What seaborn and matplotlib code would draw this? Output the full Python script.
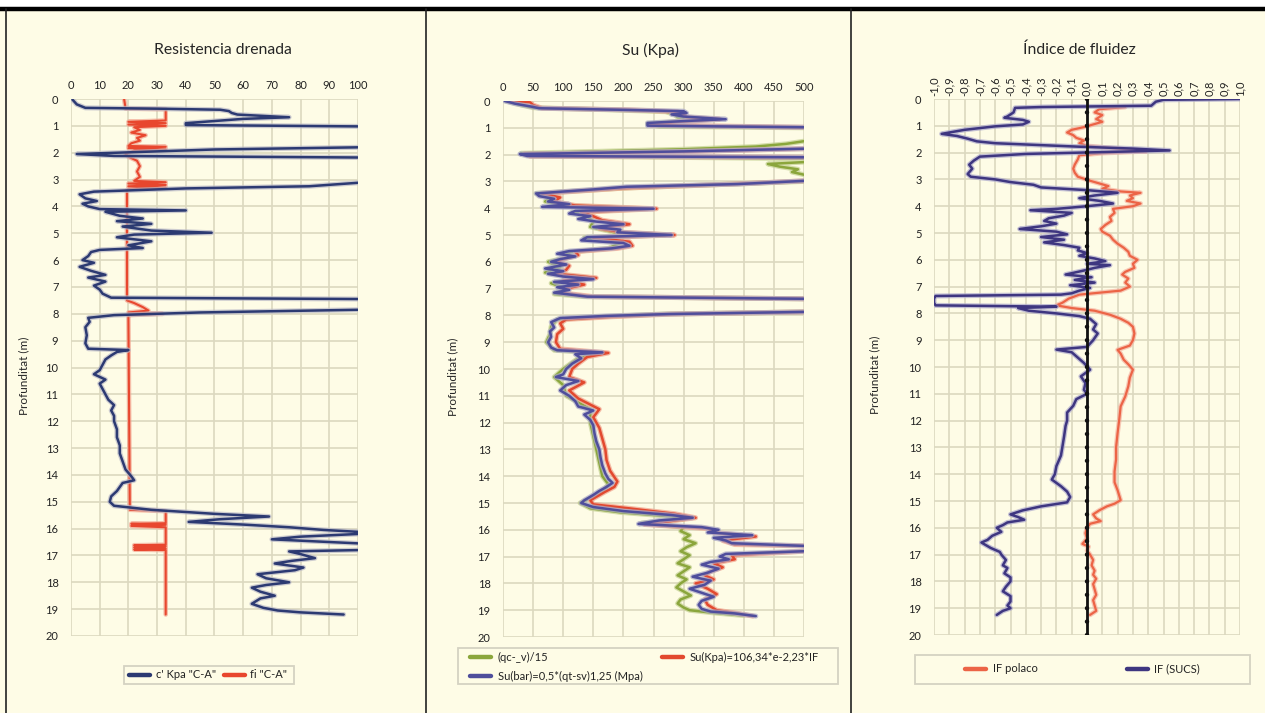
import numpy as np
import pandas as pd
import matplotlib
matplotlib.use("Agg")
import matplotlib.pyplot as plt
import matplotlib.patheffects as pe
from matplotlib.lines import Line2D
from matplotlib.patches import Rectangle
from matplotlib.ticker import MultipleLocator, FuncFormatter
import seaborn as sns

sns.set_style("white")
plt.rcParams['font.family'] = ['Lato', 'DejaVu Sans']

CREAM = "#FEFCE6"
GRID = "#DCD8BF"

# ---------------- Resistencia drenada ----------------
c_depth = [0.02, 0.2, 0.33, 0.36, 0.40, 0.45, 0.52, 0.58, 0.68, 0.74, 0.90, 0.97, 1.02, 1.05,
           1.75, 1.80, 1.88, 2.05, 2.12, 2.18, 2.22, 3.05, 3.12, 3.25, 3.33, 3.45, 3.55, 3.70,
           3.80, 3.90, 4.00, 4.10, 4.15, 4.20, 4.35, 4.45, 4.55, 4.65, 4.75, 4.90, 4.98, 5.05,
           5.15, 5.30, 5.45, 5.55, 5.62, 5.70, 5.85, 6.00, 6.10, 6.25, 6.40, 6.55, 6.65, 6.80,
           6.95, 7.10, 7.25, 7.40, 7.45, 7.48, 7.78, 7.85, 7.95, 8.05, 8.15, 8.3, 8.5, 8.8,
           9.1, 9.3, 9.35, 9.42, 9.55, 9.7, 9.9, 10.1, 10.25, 10.45, 10.6, 10.8, 11.0, 11.2,
           11.4, 11.6, 11.8, 12.0, 12.3, 12.6, 12.9, 13.2, 13.5, 13.8, 14.05, 14.2, 14.3, 14.45,
           14.6, 14.8, 15.0, 15.15, 15.3, 15.45, 15.55, 15.65, 15.75, 15.85, 15.95, 16.05, 16.12,
           16.15, 16.20, 16.30, 16.40, 16.50, 16.55, 16.6, 16.75, 16.80, 16.85, 16.95, 17.1,
           17.2, 17.3, 17.45, 17.55, 17.7, 17.85, 18.0, 18.1, 18.2, 18.35, 18.5, 18.6, 18.8,
           18.95, 19.05, 19.12, 19.2]
c_kpa = [0.5, 2, 5, 30, 52, 55, 56, 58, 76, 60, 40, 40, 100, 160,
         160, 100, 50, 2, 15, 100, 160, 160, 100, 83, 40, 8, 3, 5,
         9, 4, 6, 10, 40, 12, 17, 25, 16, 28, 18, 28, 49, 22,
         16, 28, 20, 25, 10, 7, 6, 4, 8, 3, 7, 12, 6, 12,
         8, 10, 11, 14, 100, 160, 160, 100, 45, 15, 6, 6.5, 5, 5.5,
         5, 6, 20, 16, 14, 12, 11, 10, 8, 12, 10, 11, 12, 13,
         15, 14, 15, 15, 16, 16, 17, 17, 18, 19, 21, 22, 18, 17,
         16, 14, 13.5, 15, 28, 50, 69, 52, 41, 60, 76, 88, 100,
         130, 100, 80, 70, 90, 100, 140, 140, 100, 76, 80, 85,
         77, 71, 81, 78, 65, 68, 76, 68, 63, 66, 71, 66, 63,
         67, 72, 80, 95]

fi_depth = [0.0, 0.2, 0.36, 0.38, 0.80, 0.85, 0.90, 0.95, 1.00, 1.05, 1.15, 1.25, 1.35, 1.45,
            1.55, 1.65, 1.75, 1.78, 1.83, 1.88, 1.92, 2.05, 2.15, 2.3, 2.5, 2.7, 2.9, 3.05,
            3.1, 3.15, 3.2, 3.25, 3.3, 3.35, 3.4, 7.50, 7.60, 7.75, 7.88, 7.95, 8.00, 8.05,
            8.10, 15.30, 15.35, 15.8, 15.82, 15.86, 15.9, 15.95, 16.6, 16.62, 16.66, 16.7,
            16.74, 16.78, 16.8, 19.2]
fi_val = [18.5, 18.8, 19, 33, 33, 20, 33, 20, 33, 22, 24, 21, 26, 23,
          24, 21, 20, 33, 20, 33, 22, 19, 20, 23, 24, 23, 24, 22,
          33, 20, 33, 20, 33, 20, 19.5, 19.5, 22, 25, 27, 20, 32, 20,
          20, 20.5, 33, 33, 21, 33, 21, 33, 33, 22, 33, 22,
          33, 22, 33, 33]

# ---------------- Su (Kpa) ----------------
sub_depth = [0.0, 0.1, 0.2, 0.27, 0.33, 0.38, 0.45, 0.5, 0.58, 0.68, 0.75, 0.82, 0.92, 0.98,
             1.02, 1.72, 1.78, 1.88, 1.98, 2.05, 2.10, 2.15, 2.9, 2.98, 3.1, 3.2, 3.3, 3.45,
             3.55, 3.65, 3.75, 3.85, 3.95, 4.02, 4.10, 4.2, 4.3, 4.4, 4.5, 4.6, 4.7, 4.8, 4.9,
             5.0, 5.08, 5.2, 5.3, 5.4, 5.5, 5.6, 5.7, 5.8, 5.9, 6.0, 6.1, 6.25, 6.35, 6.45,
             6.55, 6.65, 6.75, 6.85, 6.95, 7.05, 7.15, 7.3, 7.38, 7.42, 7.8, 7.87, 7.95, 8.02,
             8.1, 8.25, 8.45, 8.6, 8.8, 9.0, 9.2, 9.3, 9.38, 9.45, 9.6, 9.8, 10.0, 10.2, 10.3,
             10.45, 10.6, 10.8, 11.0, 11.2, 11.4, 11.55, 11.7, 11.9, 12.1, 12.4, 12.7, 13.0,
             13.3, 13.6, 13.9, 14.1, 14.25, 14.4, 14.55, 14.7, 14.9, 15.0, 15.15, 15.3, 15.45,
             15.55, 15.65, 15.78, 15.9, 16.0, 16.1, 16.2, 16.3, 16.4, 16.5, 16.6, 16.65, 16.75,
             16.8, 16.9, 17.0, 17.1, 17.2, 17.3, 17.45, 17.6, 17.75, 17.9, 18.05, 18.2, 18.35,
             18.5, 18.65, 18.8, 18.95, 19.05, 19.12, 19.22]
su_bar = [3, 20, 45, 60, 200, 300, 305, 280, 300, 370, 300, 240, 240, 500,
          650, 650, 500, 300, 28, 40, 500, 650, 650, 500, 390, 205, 150, 55,
          60, 85, 75, 110, 65, 250, 120, 110, 145, 125, 155, 200, 150, 195, 190,
          280, 140, 130, 200, 210, 180, 110, 90, 120, 95, 80, 105, 70, 100, 75,
          100, 150, 85, 125, 90, 110, 85, 140, 500, 650, 650, 500, 275, 170,
          95, 80, 85, 78, 80, 75, 80, 90, 165, 120, 130, 115, 105, 100, 88,
          125, 105, 95, 110, 120, 125, 150, 135, 145, 150, 152, 155, 160,
          162, 165, 170, 175, 182, 172, 160, 150, 135, 130, 150, 200, 280,
          315, 260, 225, 330, 358, 340, 414, 350, 370, 380, 500, 600, 600,
          500, 370, 360, 375, 345, 330, 358, 340, 315, 345, 335, 310, 330,
          350, 330, 325, 330, 345, 385, 420]

suk_depth = [0.0, 0.05, 0.15, 0.27, 0.33, 0.4, 0.5, 0.6, 0.68, 0.78, 0.9, 0.98, 1.02, 1.72,
             1.78, 1.9, 1.98, 2.06, 2.10, 2.15, 2.9, 2.98, 3.1, 3.25, 3.45, 3.6, 3.75, 3.9,
             4.02, 4.15, 4.3, 4.45, 4.6, 4.75, 4.9, 5.0, 5.1, 5.25, 5.4, 5.5, 5.62, 5.75, 5.9,
             6.0, 6.15, 6.3, 6.45, 6.6, 6.7, 6.85, 7.0, 7.15, 7.3, 7.38, 7.42, 7.8, 7.87, 7.95,
             8.05, 8.15, 8.3, 8.5, 8.7, 9.0, 9.25, 9.4, 9.55, 9.8, 10.0, 10.3, 10.5, 10.8, 11.1,
             11.5, 11.8, 12.2, 12.6, 13.0, 13.4, 13.8, 14.2, 14.4, 14.6, 14.9, 15.05, 15.2, 15.4,
             15.55, 15.7, 15.8, 15.95, 16.1, 16.25, 16.4, 16.55, 16.6, 16.65, 16.75, 16.8, 16.95, 17.1,
             17.25, 17.4, 17.55, 17.7, 17.85, 18.0, 18.2, 18.4, 18.6, 18.8, 19.0, 19.12, 19.22]
su_kpa = [10, 45, 50, 65, 210, 290, 300, 305, 360, 290, 245, 500, 650, 650,
          500, 280, 35, 45, 500, 650, 650, 500, 380, 200, 65, 95, 85, 120,
          255, 130, 150, 165, 210, 160, 200, 285, 150, 210, 215, 190, 120, 125, 100,
          90, 110, 105, 90, 155, 100, 135, 105, 95, 150, 500, 650, 650, 500, 280,
          180, 105, 95, 100, 90, 88, 95, 175, 140, 125, 115, 110, 135, 110, 125,
          160, 150, 160, 165, 170, 172, 178, 190, 185, 168, 145, 150, 210, 285,
          320, 270, 235, 340, 350, 420, 365, 385, 500, 620, 620, 500, 380, 385,
          350, 365, 345, 335, 350, 320, 340, 355, 335, 340, 355, 390, 415]

qc_depth = [0.0, 0.15, 0.25, 0.33, 0.4, 0.5, 0.6, 0.68, 0.78, 0.85, 0.95, 1.0, 1.05, 1.45,
            1.5, 1.6, 1.7, 1.8, 1.95, 2.05, 2.15, 2.2, 2.28, 2.35, 2.45, 2.55, 2.65, 2.75,
            2.8, 2.95, 3.0, 3.1, 3.25, 3.45, 3.6, 3.75, 3.9, 4.02, 4.15, 4.3, 4.5, 4.7, 4.9,
            5.0, 5.1, 5.3, 5.5, 5.65, 5.8, 6.0, 6.2, 6.4, 6.6, 6.8, 7.0, 7.2, 7.3, 7.38, 7.42,
            7.8, 7.87, 7.95, 8.05, 8.15, 8.4, 8.7, 9.0, 9.3, 9.4, 9.6, 10.0, 10.3, 10.6, 11.0,
            11.5, 12.0, 12.5, 13.0, 13.5, 14.0, 14.3, 14.6, 15.0, 15.2, 15.35, 15.5, 15.6,
            15.75, 15.9, 16.05, 16.2, 16.35, 16.5, 16.65, 16.8, 16.95, 17.1, 17.25, 17.4,
            17.55, 17.7, 17.85, 18.0, 18.15, 18.3, 18.45, 18.6, 18.75, 18.9, 19.0, 19.1, 19.2]
qc_15 = [5, 30, 50, 180, 270, 285, 290, 340, 280, 240, 260, 500, 650, 650,
         500, 470, 420, 300, 30, 45, 500, 650, 500, 440, 460, 490, 480, 500,
         650, 650, 500, 380, 200, 55, 80, 70, 105, 240, 115, 140, 150, 145, 185,
         270, 135, 195, 175, 105, 115, 75, 95, 70, 140, 80, 105, 85, 135, 500, 650,
         650, 500, 265, 160, 90, 80, 78, 72, 85, 160, 125, 100, 85, 100, 105,
         145, 145, 150, 155, 160, 165, 175, 165, 128, 145, 195, 280, 300,
         230, 300, 295, 310, 300, 320, 305, 295, 310, 300, 290, 310,
         300, 290, 305, 295, 288, 300, 312, 295, 290, 300, 310, 350, 400]

# ---------------- Indice de fluidez ----------------
sucs_depth = [0.0, 0.03, 0.1, 0.25, 0.3, 0.33, 0.5, 0.65, 0.7, 0.78, 0.85, 0.95, 1.02, 1.15,
              1.3, 1.38, 1.48, 1.58, 1.65, 1.72, 1.78, 1.85, 1.92, 1.98, 2.05, 2.15, 2.3, 2.45,
              2.6, 2.8, 2.9, 3.0, 3.1, 3.2, 3.3, 3.4, 3.5, 3.6, 3.7, 3.8, 3.9, 4.0, 4.1, 4.15,
              4.25, 4.35, 4.45, 4.55, 4.65, 4.75, 4.85, 4.95, 5.05, 5.15, 5.25, 5.35, 5.45, 5.55,
              5.65, 5.75, 5.85, 5.95, 6.05, 6.15, 6.2, 6.3, 6.4, 6.5, 6.55, 6.65, 6.75, 6.85,
              6.95, 7.05, 7.15, 7.25, 7.3, 7.35, 7.45, 7.6, 7.7, 7.75, 7.8, 7.9, 8.0, 8.1, 8.2,
              8.4, 8.6, 8.75, 9.0, 9.25, 9.35, 9.45, 9.6, 9.85, 10.1, 10.35, 10.6, 10.85, 11.0,
              11.2, 11.45, 11.7, 12.0, 12.2, 12.6, 12.95, 13.3, 13.7, 14.0, 14.2, 14.45, 14.65,
              14.85, 15.05, 15.2, 15.35, 15.5, 15.6, 15.7, 15.8, 15.9, 16.0, 16.15, 16.3, 16.45,
              16.55, 16.65, 16.75, 16.9, 17.0, 17.2, 17.4, 17.5, 17.7, 17.85, 18.0, 18.2, 18.37,
              18.55, 18.75, 18.9, 19.0, 19.1, 19.25]
if_sucs = [1.0, 0.5, 0.45, 0.42, -0.3, -0.47, -0.48, -0.52, -0.54, -0.42, -0.38, -0.42, -0.6, -0.8,
           -0.95, -0.85, -0.78, -0.72, -0.6, -0.3, -0.05, 0.3, 0.54, 0.1, -0.4, -0.7, -0.74, -0.77,
           -0.75, -0.78, -0.76, -0.6, -0.5, -0.35, -0.3, 0.0, 0.2, 0.05, -0.05, 0.08, 0.17, 0.0, -0.2, -0.37,
           -0.1, -0.15, -0.25, -0.28, -0.2, -0.3, -0.44, -0.2, -0.13, -0.3, -0.15, -0.28, -0.15, -0.05,
           -0.06, 0.0, -0.05, 0.05, 0.12, 0.0, 0.15, 0.05, -0.02, -0.1, -0.14, 0.03, -0.08, 0.05,
           -0.11, 0.02, -0.05, -0.1, -0.17, -0.99, -1.0, -1.0, -0.99, -0.2, -0.45, -0.38, -0.2, -0.05, 0.02,
           0.06, 0.04, 0.07, 0.04, 0.0, -0.2, -0.1, -0.07, -0.02, 0.02, -0.04, -0.01, -0.02, 0.0,
           -0.07, -0.09, -0.13, -0.13, -0.14, -0.15, -0.16, -0.17, -0.2, -0.21, -0.23, -0.17, -0.13,
           -0.11, -0.13, -0.3, -0.42, -0.5, -0.45, -0.41, -0.52, -0.55, -0.59, -0.56, -0.62, -0.65,
           -0.69, -0.66, -0.63, -0.57, -0.56, -0.53, -0.55, -0.52, -0.54, -0.5, -0.5, -0.53, -0.55,
           -0.5, -0.5, -0.52, -0.5, -0.55, -0.59]

pol_depth = [0.3, 0.38, 0.5, 0.6, 0.75, 0.85, 0.95, 1.05, 1.15, 1.25, 1.35, 1.45, 1.55, 1.65,
             1.75, 1.85, 1.95, 2.02, 2.1, 2.25, 2.45, 2.6, 2.75, 2.9, 3.05, 3.15, 3.25, 3.35,
             3.45, 3.5, 3.6, 3.7, 3.8, 3.9, 4.0, 4.1, 4.25, 4.4, 4.55, 4.7, 4.85, 4.95, 5.1,
             5.25, 5.4, 5.55, 5.7, 5.85, 6.0, 6.15, 6.3, 6.45, 6.55, 6.7, 6.85, 7.0, 7.15, 7.3,
             7.45, 7.6, 7.7, 7.8, 7.9, 8.05, 8.2, 8.35, 8.5, 8.75, 9.0, 9.2, 9.36, 9.5, 9.73,
             9.9, 10.1, 10.4, 10.72, 11.1, 11.47, 12.0, 12.46, 13.0, 13.45, 13.9, 14.3, 14.6,
             14.97, 15.1, 15.2, 15.35, 15.5, 15.65, 15.75, 15.85, 16.0, 16.2, 16.4, 16.6, 16.7,
             16.85, 17.0, 17.2, 17.4, 17.6, 17.75, 17.9, 18.1, 18.3, 18.5, 18.7, 18.9, 19.1, 19.25]
if_polaco = [0.25, 0.08, 0.05, 0.1, 0.06, 0.1, 0.04, -0.02, -0.1, -0.13, -0.09, -0.07, -0.02, -0.05,
             0.0, 0.2, 0.39, 0.1, -0.05, -0.06, -0.08, -0.09, -0.08, -0.06, 0.02, 0.08, 0.14, 0.1,
             0.22, 0.35, 0.28, 0.3, 0.26, 0.35, 0.3, 0.17, 0.18, 0.15, 0.16, 0.12, 0.09, 0.1, 0.15,
             0.17, 0.2, 0.24, 0.27, 0.28, 0.33, 0.3, 0.31, 0.25, 0.23, 0.27, 0.25, 0.28, 0.22, -0.05,
             -0.12, -0.16, -0.2, -0.1, 0.05, 0.15, 0.22, 0.27, 0.3, 0.31, 0.3, 0.28, 0.2, 0.22, 0.24,
             0.27, 0.3, 0.28, 0.27, 0.25, 0.22, 0.21, 0.2, 0.19, 0.19, 0.18, 0.18, 0.2,
             0.22, 0.18, 0.13, 0.08, 0.04, 0.06, 0.09, 0.02, 0.0, -0.01, 0.0, -0.03, 0.01,
             0.0, 0.02, 0.04, 0.03, 0.05, 0.04, 0.06, 0.04, 0.05, 0.06, 0.04, 0.05, 0.06, 0.02]

zero_marks = [0, 0.5, 1, 1.5, 2, 2.5, 3, 3.5, 4, 4.5, 5, 5.5, 6, 6.5, 7, 7.5, 8, 8.5, 9, 9.5, 10,
              10.5, 11, 11.5, 12, 12.5, 13, 13.5, 14, 14.5, 15, 15.5, 16, 16.5, 17, 17.5, 18,
              18.5, 19, 19.5, 20]

W, H = 1265, 713
fig = plt.figure(figsize=(W / 100, H / 100), dpi=100)
fig.patch.set_facecolor("white")

# panel backgrounds and borders (pixel coords from top-left)
fig.patches.append(Rectangle((0, 0), 1, 1 - 9 / H, transform=fig.transFigure,
                             facecolor=CREAM, edgecolor="none", zorder=-10))
fig.lines.append(Line2D([0, 1], [1 - 8.5 / H] * 2, transform=fig.transFigure,
                        color="black", lw=3.2, zorder=-5))
for xp in [5.5, 425.5, 850.5]:
    fig.lines.append(Line2D([xp / W] * 2, [0, 1 - 8.5 / H], transform=fig.transFigure,
                            color="#222222", lw=1.2, zorder=-5))


def make_ax(left, right, top, bottom):
    ax = fig.add_axes([left / W, 1 - bottom / H, (right - left) / W, (bottom - top) / H])
    ax.set_zorder(2)
    ax.patch.set_alpha(0)
    for s in ax.spines.values():
        s.set_visible(False)
    ax.set_ylim(20, 0)
    ax.yaxis.set_major_locator(MultipleLocator(1))
    ax.yaxis.set_minor_locator(MultipleLocator(0.5))
    ax.xaxis.tick_top()
    ax.grid(True, which="major", color=GRID, lw=1.2)
    ax.tick_params(axis="y", which="major", length=0, pad=9, labelsize=8, colors="#222222")
    ax.tick_params(axis="y", which="minor", length=3, color="#C9C5AD", width=1)
    ax.tick_params(axis="x", length=0, pad=6, labelsize=8, colors="#222222")
    return ax


def draw(ax, depth, vals, color, label, lw=1.8, halo="#B9B8C6", z=3):
    sns.lineplot(x=vals, y=depth, sort=False, estimator=None, ax=ax, color=color,
                 lw=lw, label=label, zorder=z,
                 path_effects=[pe.Stroke(linewidth=lw + 1.8, foreground=halo, alpha=0.7), pe.Normal()])


def box(x0, y0, x1, y1):
    fig.patches.append(Rectangle((x0 / W, 1 - y1 / H), (x1 - x0) / W, (y1 - y0) / H,
                                 transform=fig.transFigure, facecolor=CREAM,
                                 edgecolor="#D5D2C2", lw=1.3, zorder=-4))


def legend(ax, order, anchor, **kw):
    h, l = ax.get_legend_handles_labels()
    hm = dict(zip(l, h))
    handles = [Line2D([], [], color=hm[k].get_color(), lw=3.2) for k in order]
    kw.setdefault("handletextpad", 0.6)
    leg = ax.legend(handles, order, fontsize=8, frameon=False, loc="center left",
                    bbox_to_anchor=(anchor[0] / W, 1 - anchor[1] / H), bbox_transform=fig.transFigure,
                    borderpad=0, borderaxespad=0, handlelength=1.9, **kw)
    for t in leg.get_texts():
        t.set_color("#222222")
    return leg


# Panel 1
ax1 = make_ax(71, 358, 99, 636)
ax1.set_xlim(0, 100)
ax1.xaxis.set_major_locator(MultipleLocator(10))
draw(ax1, fi_depth, fi_val, "#E8472E", 'fi "C-A"', lw=1.5, halo="#F3A48F")
draw(ax1, c_depth, c_kpa, "#2C3A72", 'c\' Kpa "C-A"', lw=1.8)
ax1.set_ylabel("Profunditat (m)", fontsize=8.5)
ax1.yaxis.set_label_coords(-0.146, 0.485)
box(124, 666, 294, 684)
legend(ax1, ['c\' Kpa "C-A"', 'fi "C-A"'], (129, 675), ncol=2, columnspacing=0.7,
       handletextpad=0.5)

# Panel 2
ax2 = make_ax(503, 804, 101, 637)
ax2.set_xlim(0, 500)
ax2.xaxis.set_major_locator(MultipleLocator(50))
draw(ax2, qc_depth, qc_15, "#8BA63C", "(qc-_v)/15", lw=1.8, halo="#C3D08F")
draw(ax2, suk_depth, su_kpa, "#E2492F", "Su(Kpa)=106,34*e-2,23*IF", lw=1.8, halo="#F0A08A")
draw(ax2, sub_depth, su_bar, "#4F4E9C", "Su(bar)=0,5*(qt-sv)1,25 (Mpa)", lw=1.8, halo="#A9A7C8")
ax2.set_ylabel("Profunditat (m)", fontsize=8.5)
ax2.yaxis.set_label_coords(-0.15, 0.485)
box(458, 648, 838, 684)
legend(ax2, ["(qc-_v)/15", "Su(bar)=0,5*(qt-sv)1,25 (Mpa)", "Su(Kpa)=106,34*e-2,23*IF"],
       (470, 667), ncol=2, columnspacing=1.7, labelspacing=0.75)

# Panel 3
ax3 = make_ax(934, 1240, 99, 635)
ax3.set_xlim(-1, 1)
ax3.xaxis.set_major_locator(MultipleLocator(0.1))
ax3.xaxis.set_major_formatter(FuncFormatter(lambda v, p: f"{round(v, 1) + 0.0:.1f}".replace(".", ",")))
ax3.tick_params(axis="x", labelrotation=90, pad=2)
ax3.plot([0, 0], [0, 20], color="#111111", lw=2.0, zorder=5)
sns.scatterplot(x=[0] * len(zero_marks), y=zero_marks, ax=ax3, color="#111111", s=10,
                edgecolor="none", zorder=6)
draw(ax3, pol_depth, if_polaco, "#EC6446", "IF polaco", lw=1.6, halo="#F5B3A0")
draw(ax3, sucs_depth, if_sucs, "#3E3680", "IF (SUCS)", lw=1.8, halo="#ABA7CB")
ax3.set_ylabel("Profunditat (m)", fontsize=8.5)
ax3.yaxis.set_label_coords(-0.176, 0.485)
box(915, 655, 1250, 684)
legend(ax3, ["IF polaco", "IF (SUCS)"], (965, 669), ncol=2, columnspacing=8.0)

for ax in (ax1, ax2, ax3):
    ax.set_xlabel("")

fig.text(223 / W, 1 - 50 / H, "Resistencia drenada", ha="center", va="center", fontsize=11.3)
fig.text(651 / W, 1 - 50 / H, "Su (Kpa)", ha="center", va="center", fontsize=11.3)
fig.text(1079 / W, 1 - 50 / H, "Índice de fluidez", ha="center", va="center", fontsize=11.3)

fig.savefig("out.png", dpi=100, facecolor=fig.get_facecolor())
